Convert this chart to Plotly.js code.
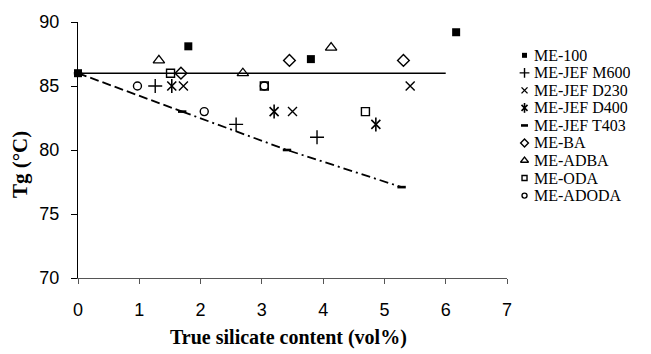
<!DOCTYPE html>
<html>
<head>
<meta charset="utf-8">
<script src="https://cdn.plot.ly/plotly-3.0.1.min.js"></script>
<style>html,body{margin:0;padding:0;background:#fff;}#chart{width:651px;height:354px;}</style>
</head>
<body>
<div id="chart"></div>
<script>
// ---- data ----
var seriesNames = ["ME-100", "ME-JEF M600", "ME-JEF D230", "ME-JEF D400", "ME-JEF T403", "ME-BA", "ME-ADBA", "ME-ODA", "ME-ADODA"];
var me100X = [0, 1.8, 3.8, 6.17];
var me100Y = [86, 88.1, 87.1, 89.2];
var m600X = [1.26, 2.58, 3.9];
var m600Y = [85, 82, 81];
var d230X = [1.72, 3.5, 5.42];
var d230Y = [85, 83, 85];
var d400X = [1.53, 3.2, 4.86];
var d400Y = [85, 83, 82];
var t403X = [0, 1.7, 3.41, 5.28];
var t403Y = [86, 83, 80, 77.1];
var baX = [1.68, 3.45, 5.31];
var baY = [86, 87, 87];
var adbaX = [1.32, 2.69, 4.13];
var adbaY = [87, 86, 88];
var odaX = [1.51, 3.04, 4.69];
var odaY = [86, 85, 83];
var adodaX = [0.97, 2.06, 3.04];
var adodaY = [85, 83, 85];
var neatX = [0, 6];
var neatY = [86, 86];
var xTicks = [0, 1, 2, 3, 4, 5, 6, 7];
var yTicks = [70, 75, 80, 85, 90];

// ---- styles ----
var K = "#000";
var styles = [
  [{symbol: "square", size: 8, color: K, line: {width: 0}}],
  [{symbol: "cross-thin-open", size: 10, color: K, line: {width: 1.4, color: K}}],
  [{symbol: "x-thin-open", size: 9, color: K, line: {width: 1.4, color: K}}],
  [{symbol: "x-thin-open", size: 9, color: K, line: {width: 1.6, color: K}},
   {symbol: "line-ns-open", size: 10, color: K, line: {width: 1.6, color: K}}],
  [{symbol: "line-ew-open", size: 6, color: K, line: {width: 2.6, color: K}}],
  [{symbol: "diamond-open", size: 9, color: K, line: {width: 1.4, color: K}}],
  [{symbol: "triangle-up-open", size: 10, color: K, line: {width: 1.3, color: K}}],
  [{symbol: "square-open", size: 8, color: K, line: {width: 1.4, color: K}}],
  [{symbol: "circle-open", size: 8, color: K, line: {width: 1.4, color: K}}]
];
var dataXY = [[me100X, me100Y], [m600X, m600Y], [d230X, d230Y], [d400X, d400Y], [t403X, t403Y],
              [baX, baY], [adbaX, adbaY], [odaX, odaY], [adodaX, adodaY]];

var traces = [];
// horizontal neat-resin line
traces.push({x: neatX, y: neatY, mode: "lines", line: {color: K, width: 1.5}, showlegend: false, hoverinfo: "skip"});
// T403 trend line: dashed first segment, dash-dot afterwards
traces.push({x: t403X.slice(0, 2), y: t403Y.slice(0, 2), mode: "lines",
             line: {color: K, width: 1.8, dash: "9px,4px"}, showlegend: false, hoverinfo: "skip"});
traces.push({x: t403X.slice(1), y: t403Y.slice(1), mode: "lines",
             line: {color: K, width: 1.8, dash: "9px,4px,2px,4px"}, showlegend: false, hoverinfo: "skip"});

dataXY.forEach(function (d, i) {
  styles[i].forEach(function (m, j) {
    traces.push({x: d[0], y: d[1], mode: "markers", name: seriesNames[i], marker: m,
                 showlegend: false, cliponaxis: false});
  });
});

// custom legend on an auxiliary axis pair
var legendAnn = [];
seriesNames.forEach(function (name, i) {
  styles[i].forEach(function (m) {
    var lm = JSON.parse(JSON.stringify(m));
    lm.size = Math.max(5, m.size - 3);
    traces.push({x: [11], y: [i], xaxis: "x2", yaxis: "y2", mode: "markers", marker: lm,
                 showlegend: false, hoverinfo: "skip", cliponaxis: false});
  });
  legendAnn.push({x: 18, y: i, xref: "x2", yref: "y2", text: name, showarrow: false,
                  xanchor: "left", yanchor: "middle", height: 15,
                  font: {family: "Liberation Serif, Times New Roman, serif", size: 16, color: K}});
});

var tickFont = {family: "Liberation Sans, Arial, sans-serif", size: 18, color: K};
var layout = {
  width: 651, height: 354,
  margin: {l: 78, r: 0, t: 22, b: 76, pad: 0},
  paper_bgcolor: "#fff", plot_bgcolor: "#fff",
  showlegend: false,
  xaxis: {domain: [0, 0.7487], range: [0, 7], tickvals: xTicks, ticktext: xTicks.map(String),
          showgrid: false, zeroline: false, showline: true, linecolor: "#555", linewidth: 1,
          ticks: "outside", ticklen: 5, tickcolor: "#555", tickfont: tickFont, ticklabelstandoff: 10,
          fixedrange: true},
  yaxis: {range: [70, 90], tickvals: yTicks, ticktext: yTicks.map(String),
          showgrid: false, zeroline: false, showline: true, linecolor: K, linewidth: 1,
          ticks: "outside", ticklen: 6, tickcolor: K, tickfont: tickFont, ticklabelstandoff: 8,
          fixedrange: true},
  xaxis2: {domain: [0.76, 1], range: [0, 137], visible: false, anchor: "y2", fixedrange: true},
  yaxis2: {domain: [0, 1], range: [12.7, -1.9], visible: false, anchor: "x2", fixedrange: true},
  annotations: legendAnn.concat([
    {text: "<b>True silicate content (vol%)</b>", xref: "paper", yref: "paper", x: 0.3665, y: -0.234,
     xanchor: "center", yanchor: "middle", showarrow: false,
     font: {family: "Liberation Serif, Times New Roman, serif", size: 20, color: K}},
    {text: "<b>Tg (°C)</b>", xref: "paper", yref: "paper", x: -0.1012, y: 0.441, textangle: -90,
     xanchor: "center", yanchor: "middle", showarrow: false,
     font: {family: "Liberation Serif, Times New Roman, serif", size: 21, color: K}}
  ])
};

Plotly.newPlot("chart", traces, layout, {displayModeBar: false, staticPlot: true});
</script>
</body>
</html>
